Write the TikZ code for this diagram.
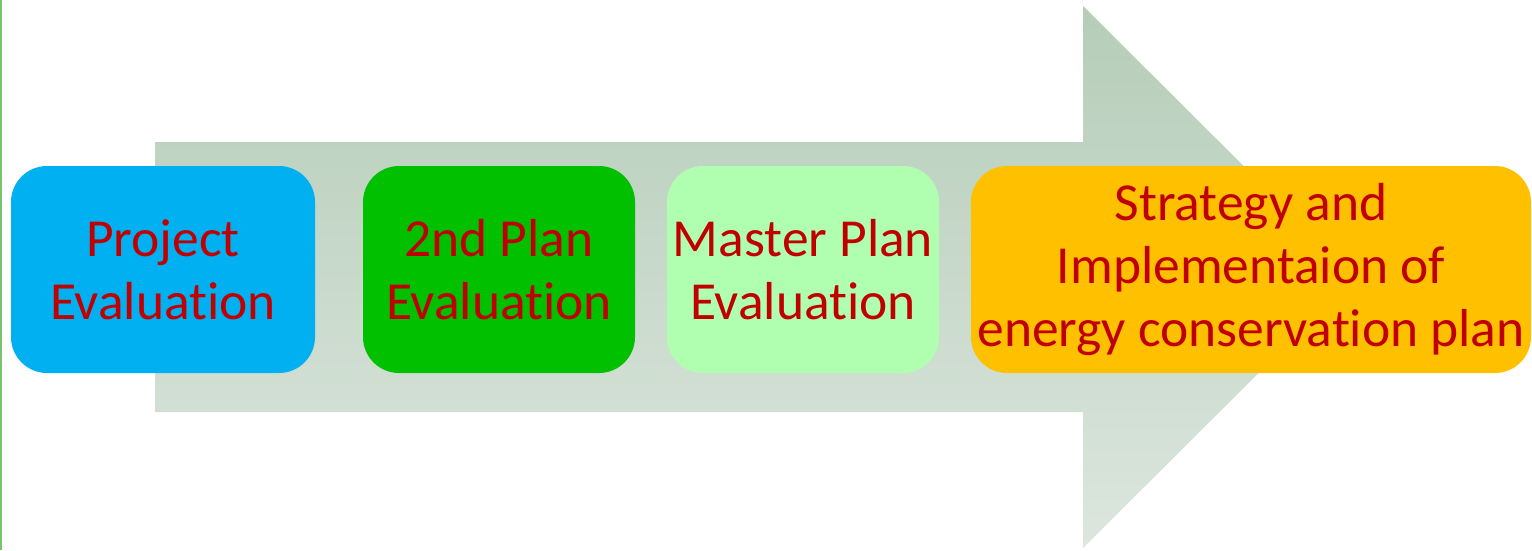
\documentclass[tikz,border=0pt]{standalone}
\usepackage{fontspec}
\setmainfont{Carlito}[Ligatures=NoCommon]
\definecolor{txtred}{HTML}{C00000}
\definecolor{cblue}{HTML}{00B0F0}
\definecolor{cgreen}{HTML}{00C000}
\definecolor{clight}{HTML}{B0FFB0}
\definecolor{corange}{HTML}{FFC000}
\definecolor{arrtop}{HTML}{B5CDB8}
\definecolor{arrbot}{HTML}{DCE6DE}
\definecolor{edge}{HTML}{78C46E}
\begin{document}
\begin{tikzpicture}[x=1pt,y=-1pt,
  stepbox/.style={rounded corners=36pt, inner sep=0pt, align=center,
    text=txtred, font=\fontsize{53.5}{63}\selectfont,
    minimum height=207pt},
]
\useasboundingbox (0,0) rectangle (1532,550);
% big arrow
\shade[top color=arrtop, bottom color=arrbot]
  (155,142) -- (1083,142) -- (1083,6) -- (1355,277) -- (1083,548)
  -- (1083,412) -- (155,412) -- cycle;
% left edge line
\draw[edge, line width=2pt] (1,0) -- (1,550);
% boxes
\node[stepbox, fill=cblue, minimum width=304pt] (b1) at (163,269.5) {Project\\ Evaluation};
\node[stepbox, fill=cgreen, minimum width=272pt] (b2) at (499,269.5) {2nd Plan\\ Evaluation};
\node[stepbox, fill=clight, minimum width=272pt] (b3) at (803,269.5) {Master Plan\\ Evaluation};
\node[stepbox, fill=corange, minimum width=560pt] (b4) at (1251,269.5) {Strategy and\\ Implementaion of\\ energy conservation plan};
\end{tikzpicture}
\end{document}
